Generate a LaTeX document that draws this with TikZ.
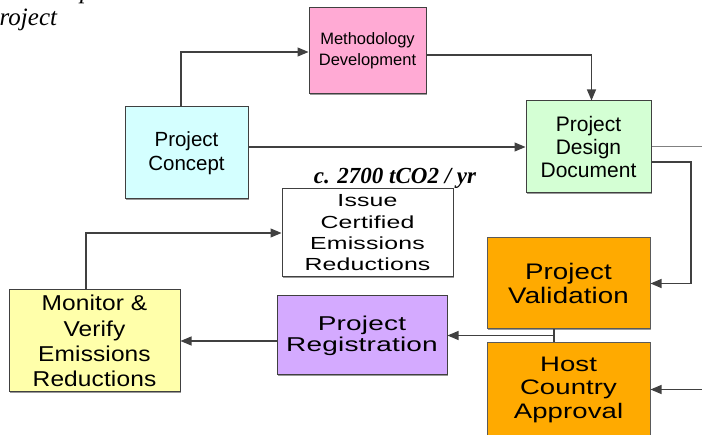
\documentclass[tikz,border=0pt]{standalone}
\usepackage{fontspec}
\setmainfont{Liberation Sans}
\newfontfamily\notefont{Liberation Serif}
\usetikzlibrary{arrows.meta,shadows}

\definecolor{linegray}{HTML}{404040}
\definecolor{edgegray}{HTML}{808080}
\definecolor{methpink}{HTML}{FFAAD4}
\definecolor{conceptcyan}{HTML}{D4FFFF}
\definecolor{pddgreen}{HTML}{D4FFD4}
\definecolor{monyellow}{HTML}{FFFFAA}
\definecolor{regpurple}{HTML}{D4AAFF}
\definecolor{valorange}{HTML}{FFAA00}

\tikzset{
  stagebox/.style={draw=linegray, line width=1pt, align=center, inner sep=0pt,
    drop shadow={shadow xshift=1.3pt, shadow yshift=-1.3pt, fill=edgegray, opacity=0.8}},
  orangebox/.style={stagebox, draw=edgegray!70!black, fill=valorange},
  flow/.style={draw=linegray, line width=1.1pt},
  arr/.style={flow, -{Triangle[length=11pt,width=9pt]}},
  feed/.style={draw=edgegray, line width=1pt},
}
% wide lettering used in the lower stage boxes
\newcommand{\widetext}[4]{\fontsize{#1}{#2}\selectfont\addfontfeature{FakeStretch=#3, LetterSpace=#4}}

\begin{document}
\begin{tikzpicture}[x=1pt,y=-1pt]
\useasboundingbox (0,0) rectangle (702,435);
\clip (0,0) rectangle (702,435);

% caption fragments at the top left
\node[anchor=base west, inner sep=0pt, font=\notefont\itshape\fontsize{25}{28}\selectfont] (captail) at (-0.5,26) {roject};
\node[anchor=base west, inner sep=0pt, font=\notefont\itshape\fontsize{25}{28}\selectfont] (capup) at (80,-1.5) {p};

% process stages
\node[stagebox, fill=methpink, minimum width=117pt, minimum height=86pt,
  font=\fontsize{16.5}{20.7}\selectfont] (meth) at (367.5,51) {Methodology\\Development};
\node[stagebox, fill=conceptcyan, minimum width=123pt, minimum height=92pt,
  font=\fontsize{20.5}{23.5}\selectfont] (concept) at (186.5,153) {Project\\Concept};
\node[stagebox, fill=pddgreen, minimum width=125pt, minimum height=92pt,
  font=\fontsize{21}{23.3}\selectfont] (pdd) at (588.5,147) {Project\\Design\\Document};
\node[stagebox, fill=white, minimum width=171pt, minimum height=88pt,
  font=\widetext{17.5}{21.3}{1.42}{1}] (issue) at (367.5,233) {Issue\\Certified\\Emissions\\Reductions};
\node[stagebox, fill=monyellow, minimum width=171pt, minimum height=102pt,
  font=\widetext{21.5}{25.2}{1.14}{0.5}] (monitor) at (94.5,341) {Monitor \&\\Verify\\Emissions\\Reductions};
\node[stagebox, fill=regpurple, minimum width=170pt, minimum height=79pt,
  font=\widetext{20}{21}{1.4}{1}] (reg) at (362,335.5) {Project\\Registration};
\node[orangebox, minimum width=163pt, minimum height=91pt,
  font=\widetext{22.5}{24.5}{1.23}{0.5}] (valid) at (568.5,283.5) {Project\\Validation};
\node[orangebox, minimum width=163pt, minimum height=93pt,
  font=\widetext{21}{23.5}{1.31}{0.5}] (host) at (568.5,389.5) {Host\\Country\\Approval};

% annual volume note
\node[anchor=base, inner sep=0pt, font=\notefont\bfseries\itshape\fontsize{23}{26}\selectfont] (rate) at (395,184) {c. 2700 tCO2 / yr};

% free ends and bends
\coordinate (edgeA) at (702,147);
\coordinate (edgeC) at (702,389.5);
\coordinate (turnB) at (691,283.5);
\coordinate (jn) at (554,335.5);

% connectors
\draw[arr] ([xshift=-5.5pt]concept.north) |- ([yshift=-1pt]meth.west);
\draw[arr] ([yshift=-4pt]meth.east) -| ([xshift=3pt]pdd.north);
\draw[arr] (concept.east |- pdd.west) -- (pdd.west);
\draw[feed] (pdd.east) -- (edgeA);
\draw[arr] ([yshift=-15pt]pdd.east) -| (turnB) -- (valid.east);
\draw[flow] (valid.south -| jn) -- (host.north -| jn);
\draw[arr] (jn) -- (reg.east |- jn);
\draw[arr] (edgeC) -- (host.east);
\draw[arr] (reg.west |- monitor.east) -- (monitor.east);
\draw[arr] ([xshift=-8.5pt]monitor.north) |- (issue.west);
\end{tikzpicture}
\end{document}
